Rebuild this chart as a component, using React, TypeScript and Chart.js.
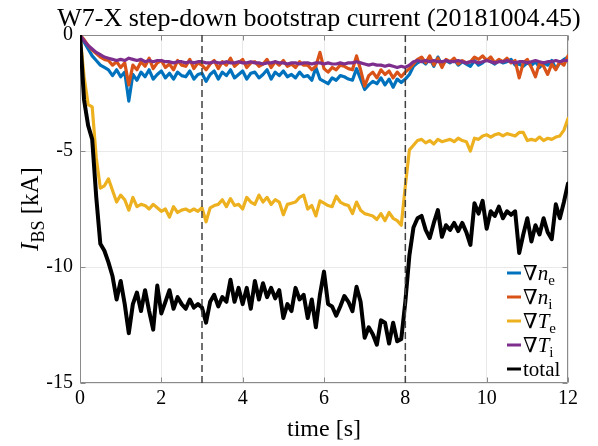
import React, { useEffect, useRef } from "react";
import { Chart, registerables } from "chart.js";

Chart.register(...registerables);

const FONT = "'Liberation Serif', 'DejaVu Serif', serif";

const titleText = "W7-X step-down bootstrap current (20181004.45)";
const xTicks = [0, 2, 4, 6, 8, 10, 12];
const yTicks = [-15, -10, -5, 0];
const markerTimes = [3, 8];

const time = [
  0, 0.1, 0.2, 0.3, 0.4, 0.5, 0.6, 0.7, 0.8, 0.9,
  1.0, 1.1, 1.2, 1.3, 1.4, 1.5, 1.6, 1.7, 1.8, 1.9,
  2.0, 2.1, 2.2, 2.3, 2.4, 2.5, 2.6, 2.7, 2.8, 2.9,
  3.0, 3.1, 3.2, 3.3, 3.4, 3.5, 3.6, 3.7, 3.8, 3.9,
  4.0, 4.1, 4.2, 4.3, 4.4, 4.5, 4.6, 4.7, 4.8, 4.9,
  5.0, 5.1, 5.2, 5.3, 5.4, 5.5, 5.6, 5.7, 5.8, 5.9,
  6.0, 6.1, 6.2, 6.3, 6.4, 6.5, 6.6, 6.7, 6.8, 6.9,
  7.0, 7.1, 7.2, 7.3, 7.4, 7.5, 7.6, 7.7, 7.8, 7.9,
  8.0, 8.1, 8.2, 8.3, 8.4, 8.5, 8.6, 8.7, 8.8, 8.9,
  9.0, 9.1, 9.2, 9.3, 9.4, 9.5, 9.6, 9.7, 9.8, 9.9,
  10.0, 10.1, 10.2, 10.3, 10.4, 10.5, 10.6, 10.7, 10.8, 10.9,
  11.0, 11.1, 11.2, 11.3, 11.4, 11.5, 11.6, 11.7, 11.8, 11.9,
  12.0,
];

const gradNe = [
  0, -0.3, -0.6, -0.9, -1.1, -1.3, -1.4, -1.5, -1.75, -1.5,
  -1.8, -1.6, -2.85, -1.7, -1.95, -1.6, -1.8, -1.5, -1.9, -1.7,
  -1.55, -1.85, -1.65, -1.9, -1.6, -1.75, -1.8, -1.55, -1.9, -1.7,
  -1.65, -2.0, -1.7, -1.55, -1.9, -1.6, -1.75, -1.5, -1.85, -1.7,
  -1.55, -1.9, -1.65, -1.6, -1.85, -1.7, -1.5, -1.9, -1.6, -1.75,
  -1.55, -1.8, -1.7, -1.85, -1.6, -1.8, -1.75, -1.95, -1.4, -1.9,
  -2.0, -2.1, -1.85, -1.95, -1.75, -1.8, -1.9, -1.95, -1.45, -1.9,
  -2.35, -2.15, -2.0, -2.1, -1.85, -2.15, -1.9, -2.25, -1.9, -2.05,
  -1.9, -1.7, -1.35, -1.2, -1.1, -1.25, -1.0, -1.35, -0.95, -1.3,
  -1.1, -1.2, -1.05, -1.3, -1.15, -1.25, -1.35, -1.1, -1.3, -1.2,
  -1.05, -1.15, -1.25, -1.1, -1.2, -1.15, -1.05, -1.3, -1.25, -1.35,
  -1.2, -1.3, -1.15, -1.4, -1.2, -1.3, -1.1, -1.45, -1.2, -1.05,
  -0.95,
];

const gradNi = [
  0, -0.2, -0.45, -0.65, -0.8, -0.95, -1.05, -1.1, -1.3, -1.15,
  -1.4, -1.2, -2.15, -1.3, -1.5, -1.15, -1.35, -1.0, -1.45, -1.2,
  -1.1, -1.4, -1.25, -1.5, -1.1, -1.3, -1.35, -1.05, -1.45, -1.2,
  -1.3, -1.5, -1.25, -1.1, -1.45, -1.15, -1.3, -1.0, -1.35, -1.2,
  -1.05, -1.4, -1.2, -1.15, -1.35, -1.25, -1.05, -1.4, -1.15, -1.3,
  -1.1, -1.35, -1.25, -1.4, -1.15, -1.3, -1.3, -1.5, -1.35, -0.75,
  -1.45, -1.6, -1.4, -1.5, -1.3, -1.35, -1.45, -1.5, -0.9, -1.5,
  -2.2, -1.75, -1.6, -1.85, -1.5, -1.7, -1.55, -1.85, -1.6, -1.8,
  -1.6, -1.45, -1.25, -1.05, -0.95, -1.2, -0.9, -1.3, -1.0, -1.4,
  -1.05, -1.15, -1.0, -1.25, -1.1, -1.2, -1.15, -0.95, -1.05, -0.9,
  -1.1, -0.95, -1.2, -1.05, -1.15, -1.0, -1.2, -1.1, -1.85, -1.2,
  -1.05, -1.4, -1.8, -1.2, -1.35, -1.7, -1.25, -1.5, -1.15, -1.3,
  -0.9,
];

const gradTe = [
  0, -1.8, -3.0, -3.1, -5.3, -6.6, -6.5, -6.2, -6.7, -7.2,
  -6.9, -7.1, -7.55, -7.0, -7.4, -7.3, -7.35, -7.5, -7.3, -7.45,
  -7.6, -7.5, -7.85, -7.4, -7.65, -7.55, -7.5, -7.6, -7.5, -7.6,
  -7.45, -8.05, -7.45, -7.35, -7.3, -7.1, -7.4, -7.05, -7.35, -7.3,
  -7.5, -7.0, -7.2, -7.3, -6.9, -7.2, -7.0, -7.3, -7.1, -7.2,
  -7.75, -7.3, -7.25, -7.2, -7.0, -6.9, -7.5, -7.35, -7.8, -7.15,
  -7.25, -7.35, -7.4, -6.95, -7.2, -7.3, -7.35, -7.7, -7.2, -7.55,
  -7.7, -7.75, -7.8, -7.95, -7.7, -8.0, -7.65, -7.9, -8.0, -8.2,
  -6.5, -4.95, -4.75, -4.55, -4.5, -4.65, -4.55, -4.7, -4.5, -4.6,
  -4.55, -4.5, -4.6, -4.45, -4.55, -4.6, -5.0, -4.45, -4.5, -4.35,
  -4.3, -4.4, -4.3, -4.25, -4.35, -4.25, -4.3, -4.35, -4.2, -4.2,
  -4.55, -4.5, -4.55, -4.4, -4.55, -4.45, -4.5, -4.4, -4.35, -4.1,
  -3.6,
];

const gradTi = [
  0, -0.25, -0.45, -0.6, -0.75, -0.85, -0.95, -1.0, -1.05, -1.1,
  -1.05, -1.1, -1.0, -1.05, -1.1, -1.05, -1.15, -1.1, -1.15, -1.1,
  -1.1, -1.15, -1.15, -1.2, -1.15, -1.15, -1.2, -1.15, -1.2, -1.15,
  -1.15, -1.2, -1.2, -1.15, -1.2, -1.2, -1.15, -1.2, -1.2, -1.15,
  -1.2, -1.2, -1.15, -1.2, -1.2, -1.25, -1.2, -1.2, -1.15, -1.2,
  -1.2, -1.25, -1.2, -1.2, -1.25, -1.2, -1.2, -1.25, -1.2, -1.2,
  -1.25, -1.2, -1.25, -1.25, -1.2, -1.25, -1.2, -1.2, -1.15, -1.2,
  -1.25, -1.3, -1.25, -1.3, -1.3, -1.35, -1.3, -1.35, -1.4, -1.35,
  -1.4, -1.3, -1.15, -1.1, -1.15, -1.1, -1.15, -1.1, -1.15, -1.15,
  -1.1, -1.15, -1.15, -1.1, -1.15, -1.2, -1.15, -1.15, -1.2, -1.15,
  -1.1, -1.15, -1.2, -1.15, -1.15, -1.1, -1.15, -1.2, -1.15, -1.15,
  -1.2, -1.15, -1.1, -1.15, -1.2, -1.15, -1.15, -1.1, -1.15, -1.1,
  -1.1,
];

const totalCurrent = [
  0, -2.8, -3.9, -4.5, -7.0, -9.0, -9.3, -9.8, -10.4, -11.4,
  -10.6, -11.6, -12.85, -11.6, -11.1, -11.9, -11.0, -11.9, -12.7, -10.8,
  -12.0, -11.5, -11.0, -11.8, -11.3, -11.6, -11.8, -11.4, -11.75, -11.6,
  -11.75, -12.4, -11.5, -11.2, -11.7, -11.3, -11.5, -10.55, -11.5, -10.9,
  -11.6, -10.9, -11.8, -10.6, -11.4, -10.7, -11.3, -10.9, -11.35, -11.0,
  -12.2, -11.6, -11.9, -10.9, -11.4, -11.2, -12.2, -11.4, -12.6, -11.2,
  -10.2, -11.6, -11.7, -12.1, -11.7, -11.25, -11.5, -11.9, -10.85, -11.5,
  -13.05, -12.6, -12.9, -13.35, -12.3, -12.4, -13.3, -12.4, -13.2, -13.1,
  -11.5, -9.5, -8.3, -7.9, -7.8, -8.4, -8.75, -8.1, -7.55, -8.7,
  -8.2, -8.4, -8.1, -8.45, -8.1, -8.5, -9.05, -7.25, -7.7, -7.15,
  -8.35, -7.6, -7.8, -7.4, -7.9, -7.6, -7.75, -7.6, -9.4, -8.6,
  -7.9, -8.9, -8.2, -8.6, -7.9, -8.5, -8.8, -7.3, -7.9, -7.2,
  -6.4,
];

type Part = { t: string; it?: boolean; sub?: boolean };

const seriesNames: Part[][] = [
  [{ t: "\u2207" }, { t: "n", it: true }, { t: "e", sub: true }],
  [{ t: "\u2207" }, { t: "n", it: true }, { t: "i", sub: true }],
  [{ t: "\u2207" }, { t: "T", it: true }, { t: "e", sub: true }],
  [{ t: "\u2207" }, { t: "T", it: true }, { t: "i", sub: true }],
  [{ t: "total" }],
];
const yLabelParts: Part[] = [{ t: "I", it: true }, { t: "BS", sub: true }, { t: " [kA]" }];
const xLabelText = "time [s]";

const COLORS = ["#0072BD", "#D95319", "#EDB120", "#7E2F8E", "#000000"];
const AXIS = "#8a8a8a";

function drawParts(ctx: CanvasRenderingContext2D, parts: Part[], x: number, y: number, size: number, align: "left" | "center") {
  const subSize = Math.round(size * 0.7);
  const fontFor = (p: Part) => `${p.it ? "italic " : ""}${p.sub ? subSize : size}px ${FONT}`;
  let w = 0;
  for (const p of parts) {
    ctx.font = fontFor(p);
    w += ctx.measureText(p.t).width;
  }
  let cx = align === "center" ? x - w / 2 : x;
  ctx.textAlign = "left";
  ctx.textBaseline = "alphabetic";
  for (const p of parts) {
    ctx.font = fontFor(p);
    ctx.fillText(p.t, cx, p.sub ? y + size * 0.25 : y);
    cx += ctx.measureText(p.t).width;
  }
}

const decorPlugin = {
  id: "decor",
  beforeDatasetsDraw(chart: any) {
    const { ctx, chartArea: a, scales } = chart;
    const x = scales.x;
    const y = scales.y;
    ctx.save();
    ctx.strokeStyle = AXIS;
    ctx.lineWidth = 1;
    const L = Math.round(a.left) + 0.5;
    const R = Math.round(a.right) - 0.5;
    const T = Math.round(a.top) + 0.5;
    const B = Math.round(a.bottom) - 0.5;
    ctx.beginPath();
    ctx.rect(L, T, R - L, B - T);
    ctx.stroke();
    ctx.beginPath();
    for (const v of xTicks) {
      const px = Math.round(x.getPixelForValue(v)) + 0.5;
      ctx.moveTo(px, B);
      ctx.lineTo(px, B - 5);
      ctx.moveTo(px, T);
      ctx.lineTo(px, T + 5);
    }
    for (const v of yTicks) {
      const py = Math.round(y.getPixelForValue(v)) + 0.5;
      ctx.moveTo(L, py);
      ctx.lineTo(L + 5, py);
      ctx.moveTo(R, py);
      ctx.lineTo(R - 5, py);
    }
    ctx.stroke();
    ctx.restore();
  },
  afterDraw(chart: any) {
    const { ctx, chartArea: a } = chart;
    ctx.save();
    ctx.fillStyle = "#000";
    // title
    drawParts(ctx, [{ t: titleText }], 319, 26, 26, "center");
    // x label
    drawParts(ctx, [{ t: xLabelText }], (a.left + a.right) / 2, 436, 24, "center");
    // y label
    ctx.save();
    ctx.translate(30, (a.top + a.bottom) / 2);
    ctx.rotate(-Math.PI / 2);
    drawParts(ctx, yLabelParts, 0, 8, 25, "center");
    ctx.restore();
    // legend
    const lx = a.right - 61;
    const ly0 = a.bottom - 110;
    seriesNames.forEach((parts, i) => {
      const cy = ly0 + i * 24;
      ctx.strokeStyle = COLORS[i];
      ctx.lineWidth = 3;
      ctx.beginPath();
      ctx.moveTo(lx, cy);
      ctx.lineTo(lx + 14, cy);
      ctx.stroke();
      ctx.fillStyle = "#000";
      drawParts(ctx, parts, lx + 16, cy + 7, 21, "left");
    });
    ctx.restore();
  },
};

export default function App() {
  const ref = useRef<HTMLCanvasElement | null>(null);
  useEffect(() => {
    if (!ref.current) return;
    const series = [gradNe, gradNi, gradTe, gradTi, totalCurrent];
    const datasets: any[] = series.map((s, i) => ({
      label: "s" + i,
      data: time.map((t, k) => ({ x: t, y: s[k] })),
      borderColor: COLORS[i],
      backgroundColor: COLORS[i],
      borderWidth: i === 4 ? 4 : 3.2,
      pointRadius: 0,
      tension: 0,
      borderJoinStyle: "round",
      borderCapStyle: "round",
      order: 10 - i,
    }));
    markerTimes.forEach((t, j) => {
      datasets.push({
        label: "m" + j,
        data: [
          { x: t, y: yTicks[0] },
          { x: t, y: yTicks[yTicks.length - 1] },
        ],
        borderColor: "#404040",
        borderWidth: 1.5,
        borderDash: [7, 4],
        pointRadius: 0,
        order: 1,
      });
    });
    const chart = new Chart(ref.current, {
      type: "line",
      data: { datasets },
      plugins: [decorPlugin],
      options: {
        animation: false,
        responsive: false,
        devicePixelRatio: 1,
        layout: { padding: { left: 0, right: 30, top: 35, bottom: 0 } },
        plugins: {
          legend: { display: false },
          tooltip: { enabled: false },
          title: { display: false },
        },
        scales: {
          x: {
            type: "linear",
            min: xTicks[0],
            max: xTicks[xTicks.length - 1],
            afterBuildTicks: (s: any) => {
              s.ticks = xTicks.map((v) => ({ value: v }));
            },
            afterFit: (s: any) => {
              s.height = 63;
            },
            ticks: {
              font: { family: FONT, size: 20 },
              color: "#000",
              padding: 4,
              maxRotation: 0,
              autoSkip: false,
            },
            grid: { color: "#e9e9e9", drawTicks: false },
            border: { display: false },
          },
          y: {
            type: "linear",
            min: yTicks[0],
            max: yTicks[yTicks.length - 1],
            afterBuildTicks: (s: any) => {
              s.ticks = yTicks.map((v) => ({ value: v }));
            },
            afterFit: (s: any) => {
              s.width = 80;
            },
            ticks: {
              font: { family: FONT, size: 20 },
              color: "#000",
              padding: 7,
              autoSkip: false,
              callback: (v: any) => String(v),
            },
            grid: { color: "#e9e9e9", drawTicks: false },
            border: { display: false },
          },
        },
      } as any,
    });
    return () => chart.destroy();
  }, []);
  return (
    <div style={{ position: "absolute", left: 0, top: 0, width: 598, height: 446 }}>
      <canvas ref={ref} width={598} height={446} />
    </div>
  );
}
